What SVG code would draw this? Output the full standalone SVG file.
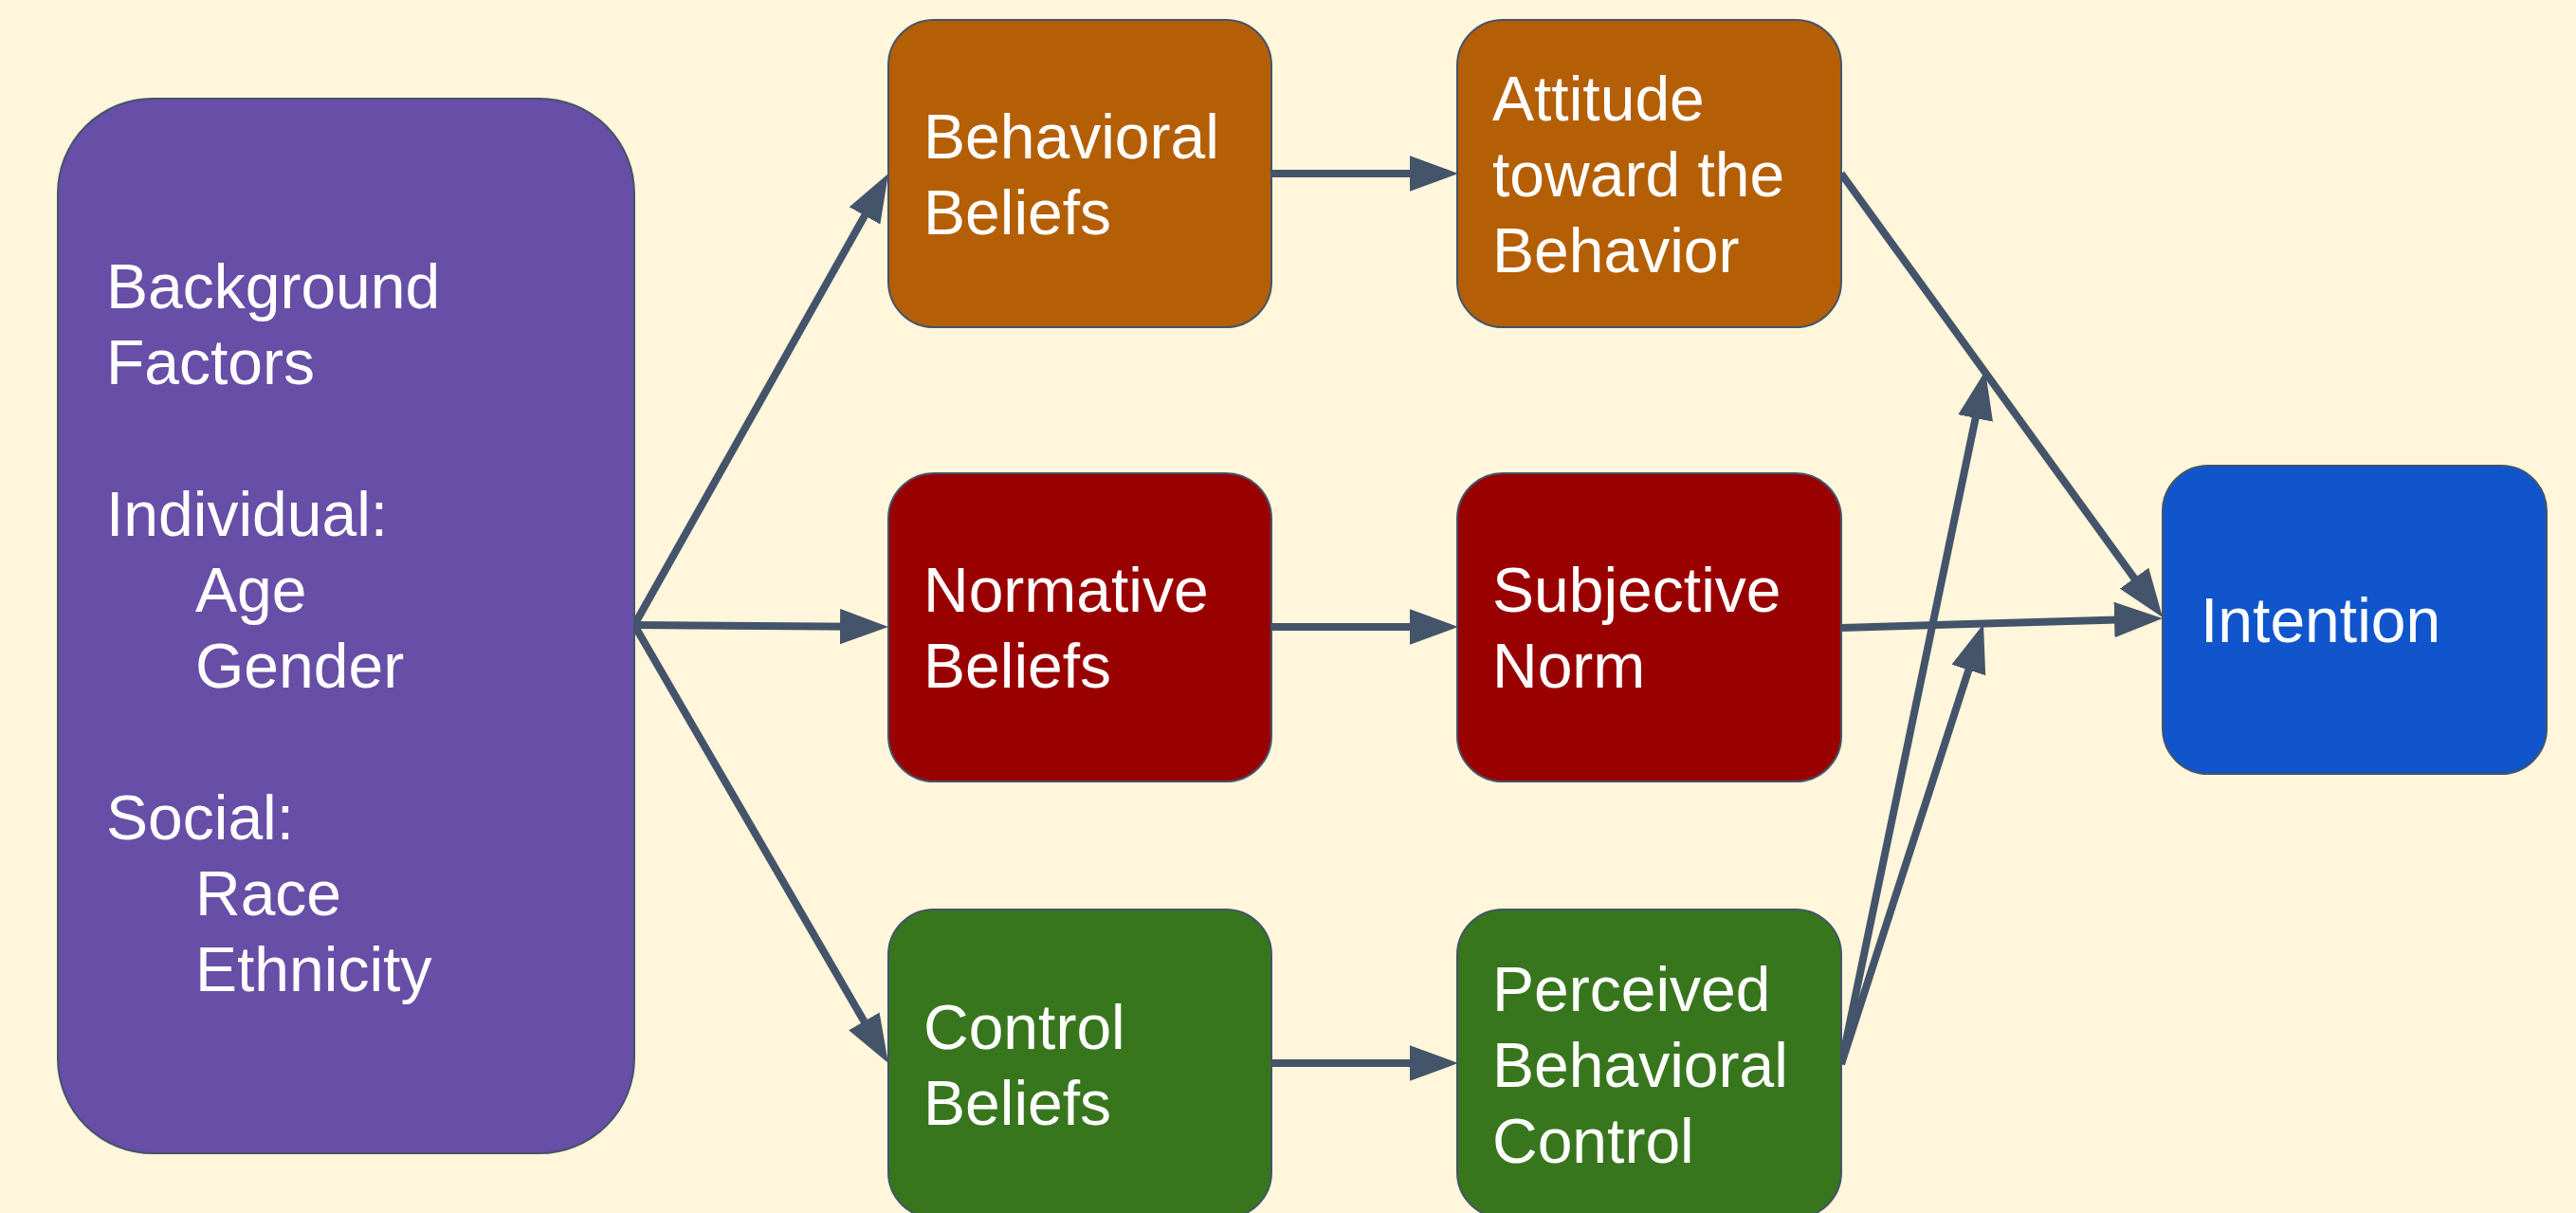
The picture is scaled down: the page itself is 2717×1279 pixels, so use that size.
<svg xmlns="http://www.w3.org/2000/svg" width="2717" height="1279" viewBox="0 0 2717 1279">
<defs>
<style>
.node{stroke:#44546a;stroke-width:2}
.t{font-family:"Liberation Sans",Arial,sans-serif;font-size:66px;fill:#ffffff}
.c{fill:none;stroke:#44546a;stroke-width:8;marker-end:url(#ah)}
</style>
<marker id="ah" markerUnits="userSpaceOnUse" markerWidth="52" markerHeight="38" refX="21" refY="18.75" orient="auto" viewBox="0 0 52 38">
<path d="M0,0 L51,18.75 L0,37.5 z" fill="#44546a"/>
</marker>
</defs>
<rect width="2717" height="1279" fill="#fff6db"/>
<g id="connectors">
<line class="c" x1="669" y1="659" x2="922.3" y2="209.1"/>
<line class="c" x1="669" y1="659" x2="907" y2="660.8"/>
<line class="c" x1="669" y1="659" x2="921.9" y2="1095"/>
<line class="c" x1="1341" y1="183" x2="1508" y2="183"/>
<line class="c" x1="1341" y1="661" x2="1508" y2="661"/>
<line class="c" x1="1341" y1="1121" x2="1508" y2="1121"/>
<line class="c" x1="1942" y1="183" x2="2263.4" y2="626.7"/>
<line class="c" x1="1942" y1="662" x2="2251" y2="652.9"/>
<line class="c" x1="1942" y1="1122" x2="2087.9" y2="420.4"/>
<line class="c" x1="1942" y1="1122" x2="2082.8" y2="686.5"/>
</g>
<g id="background-factors">
<rect class="node" x="61" y="104" width="608" height="1112" rx="100" ry="100" fill="#674ea7"/>
<text class="t" x="112" y="325">Background</text>
<text class="t" x="112" y="405">Factors</text>
<text class="t" x="112" y="565">Individual:</text>
<text class="t" x="206" y="645">Age</text>
<text class="t" x="206" y="725">Gender</text>
<text class="t" x="112" y="885">Social:</text>
<text class="t" x="206" y="965">Race</text>
<text class="t" x="206" y="1045">Ethnicity</text>
</g>
<g id="behavioral-beliefs">
<rect class="node" x="937" y="21" width="404" height="324" rx="48" ry="48" fill="#b45f06"/>
<text class="t" x="974" y="167">Behavioral</text>
<text class="t" x="974" y="247">Beliefs</text>
</g>
<g id="attitude">
<rect class="node" x="1537" y="21" width="405" height="324" rx="48" ry="48" fill="#b45f06"/>
<text class="t" x="1574" y="127">Attitude</text>
<text class="t" x="1574" y="207">toward the</text>
<text class="t" x="1574" y="287">Behavior</text>
</g>
<g id="normative-beliefs">
<rect class="node" x="937" y="499" width="404" height="325" rx="48" ry="48" fill="#990000"/>
<text class="t" x="974" y="645">Normative</text>
<text class="t" x="974" y="725">Beliefs</text>
</g>
<g id="subjective-norm">
<rect class="node" x="1537" y="499" width="405" height="325" rx="48" ry="48" fill="#990000"/>
<text class="t" x="1574" y="645">Subjective</text>
<text class="t" x="1574" y="725">Norm</text>
</g>
<g id="control-beliefs">
<rect class="node" x="937" y="959" width="404" height="325" rx="48" ry="48" fill="#38761d"/>
<text class="t" x="974" y="1106">Control</text>
<text class="t" x="974" y="1186">Beliefs</text>
</g>
<g id="perceived-behavioral-control">
<rect class="node" x="1537" y="959" width="405" height="325" rx="48" ry="48" fill="#38761d"/>
<text class="t" x="1574" y="1066">Perceived</text>
<text class="t" x="1574" y="1146">Behavioral</text>
<text class="t" x="1574" y="1226">Control</text>
</g>
<g id="intention">
<rect class="node" x="2281" y="491" width="405" height="325" rx="48" ry="48" fill="#1155cc"/>
<text class="t" x="2321" y="677">Intention</text>
</g>
</svg>
